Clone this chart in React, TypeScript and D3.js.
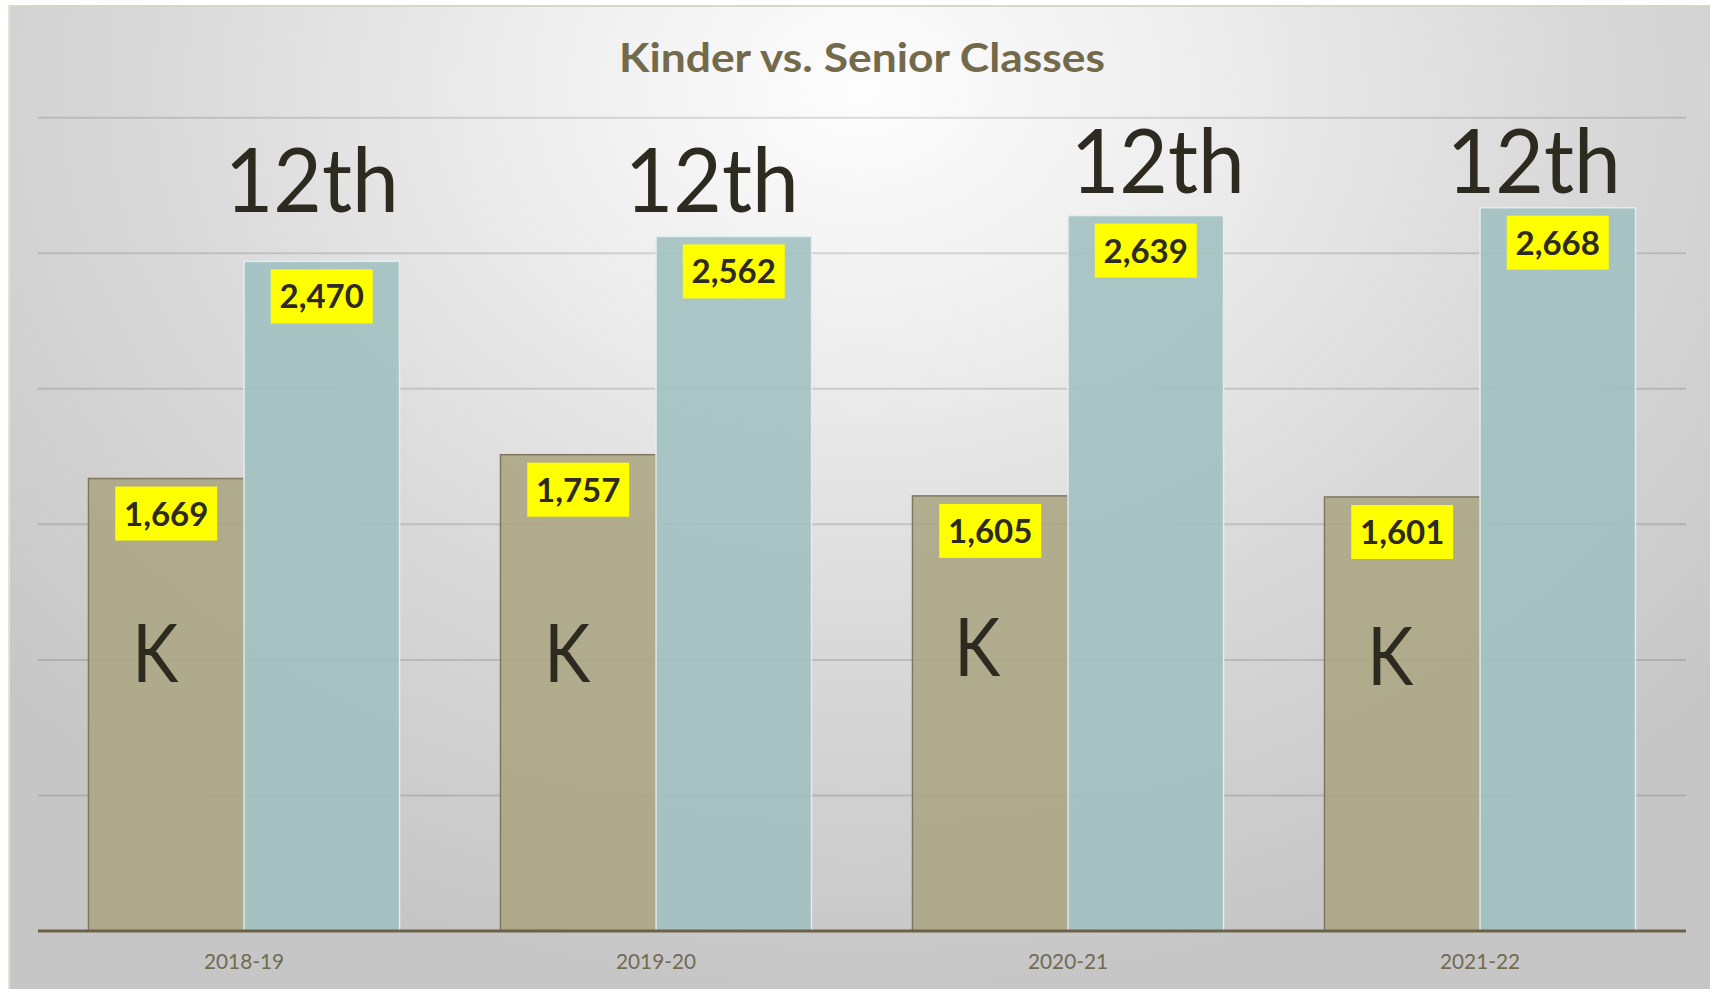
import React from 'react';
import * as d3 from 'd3';

// school years on the x axis
const years = ['2018-19', '2019-20', '2020-21', '2021-22'];
// kindergarten enrolment per year
const kinder = [1669, 1757, 1605, 1601];
// senior (12th grade) enrolment per year
const seniors = [2470, 2562, 2639, 2668];
const yTicks = [500, 1000, 1500, 2000, 2500, 3000];

// hand-placed annotation nudges (px) relative to each bar
const seniorTagNudge = [{ dx: -10, y: 212 }, { dx: -22, y: 212 }, { dx: 12, y: 193 }, { dx: -24, y: 193 }];
const kinderTagNudge = [{ dx: -11, y: 682 }, { dx: -11, y: 682 }, { dx: -13, y: 676 }, { dx: -12, y: 685 }];

const W = 1710;
const H = 989;
const FONT = 'Lato, "Open Sans", sans-serif';

const App = () => {
  const left = 38;
  const right = 1686;
  const base = 931;

  const x0 = d3.scaleBand<string>()
    .domain(years)
    .range([left, right])
    .paddingInner(0.245)
    .paddingOuter(0.1225);

  const x1 = d3.scaleBand<string>()
    .domain(['K', '12th'])
    .range([0, x0.bandwidth()]);

  const y = d3.scaleLinear().domain([0, 3000]).range([base, 117.7]);

  const bw = x1.bandwidth();

  const valueTag = (cx: number, v: number, key: string) => {
    const top = y(v) + 8;
    return (
      <g key={key}>
        <rect x={cx - 51} y={top} width={102} height={54} fill="#ffff00" />
        <text x={cx} y={top + 39} textAnchor="middle" fontFamily={FONT} fontWeight={700}
          fontSize={33} fill="#2d2a20">{d3.format(',')(v)}</text>
      </g>
    );
  };

  return (
    <svg width={W} height={H} style={{ position: 'fixed', left: 0, top: 0, background: '#fff' }}>
      <defs>
        <radialGradient id="bg" gradientUnits="userSpaceOnUse" cx={0} cy={0} r={1}
          gradientTransform="translate(862,90) scale(1150,900)">
          <stop offset="0" stopColor="#fdfdfd" />
          <stop offset="0.25" stopColor="#f0f0f0" />
          <stop offset="0.6" stopColor="#dadada" />
          <stop offset="1" stopColor="#c6c6c6" />
        </radialGradient>
      </defs>

      <rect x={8} y={5} width={W - 8} height={H - 5} fill="url(#bg)" />
      <line x1={8} x2={W} y1={6} y2={6} stroke="#d9d5c7" strokeWidth={2} />
      <line x1={9} x2={9} y1={5} y2={H} stroke="#e4e1d6" strokeWidth={2} />

      <text x={(left + right) / 2} y={71.7} textAnchor="middle" fontFamily={FONT} fontWeight={700}
        fontSize={41} fill="#736a4c" textLength={486} lengthAdjust="spacingAndGlyphs">
        Kinder vs. Senior Classes
      </text>

      {yTicks.map(t => (
        <line key={t} x1={left} x2={right} y1={y(t)} y2={y(t)} stroke="#000" strokeOpacity={0.13} strokeWidth={2} />
      ))}

      {years.map((yr, i) => {
        const gx = x0(yr)!;
        const kx = gx + x1('K')!;
        const sx = gx + x1('12th')!;
        return (
          <g key={yr}>
            <rect x={kx} y={y(kinder[i])} width={bw} height={base - y(kinder[i])}
              fill="#aaa582" fillOpacity={0.88} stroke="#7e7862" strokeWidth={1.5} />
            <rect x={sx} y={y(seniors[i])} width={bw} height={base - y(seniors[i])}
              fill="#9fbfbf" fillOpacity={0.88} stroke="#e2eeee" strokeWidth={1.5} />
          </g>
        );
      })}

      <line x1={left} x2={right} y1={base} y2={base} stroke="#6b6248" strokeWidth={3} />

      {years.map((yr, i) => {
        const gx = x0(yr)!;
        const kc = gx + x1('K')! + bw / 2;
        const sc = gx + x1('12th')! + bw / 2;
        return (
          <g key={'lab' + yr}>
            {valueTag(kc, kinder[i], 'k')}
            {valueTag(sc, seniors[i], 's')}
            <text x={sc + seniorTagNudge[i].dx} y={seniorTagNudge[i].y} textAnchor="middle" fontFamily={FONT}
              fontSize={89} fill="#2d2a20" textLength={174} lengthAdjust="spacingAndGlyphs">12th</text>
            <text x={kc + kinderTagNudge[i].dx} y={kinderTagNudge[i].y} textAnchor="middle" fontFamily={FONT}
              fontSize={82} fill="#2d2a20" textLength={46} lengthAdjust="spacingAndGlyphs">K</text>
            <text x={gx + x0.bandwidth() / 2} y={969} textAnchor="middle" fontFamily={FONT}
              fontSize={21} fill="#736a4f" textLength={80} lengthAdjust="spacingAndGlyphs">{yr}</text>
          </g>
        );
      })}
    </svg>
  );
};

export default App;
